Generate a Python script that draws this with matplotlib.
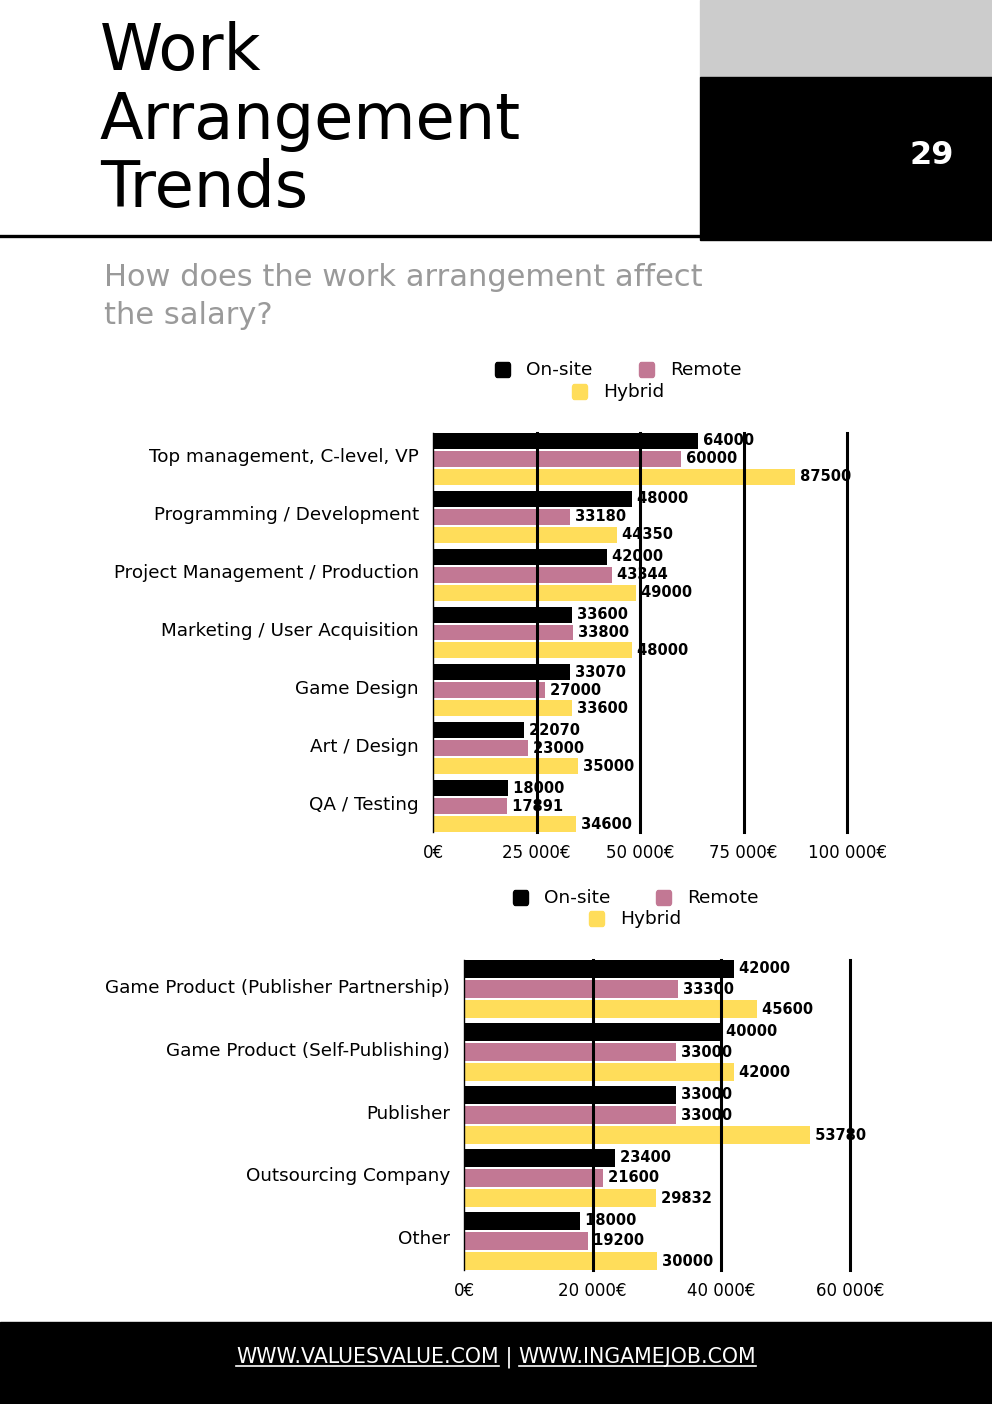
import matplotlib
matplotlib.use("Agg")
import matplotlib.pyplot as plt
import matplotlib.transforms as mtransforms
from matplotlib.patches import Rectangle, FancyBboxPatch
from matplotlib.lines import Line2D
import numpy as np

plt.rcParams['font.family'] = ['DejaVu Sans']

# ---------------- data ----------------
series_names = ["On-site", "Remote", "Hybrid"]
colors = ["#000000", "#c27894", "#ffdd5a"]

roles = ["Top management, C-level, VP", "Programming / Development",
         "Project Management / Production", "Marketing / User Acquisition",
         "Game Design", "Art / Design", "QA / Testing"]
roles_onsite = [64000, 48000, 42000, 33600, 33070, 22070, 18000]
roles_remote = [60000, 33180, 43344, 33800, 27000, 23000, 17891]
roles_hybrid = [87500, 44350, 49000, 48000, 33600, 35000, 34600]
roles_ticks = [0, 25000, 50000, 75000, 100000]
roles_ticklabels = ["0€", "25 000€", "50 000€", "75 000€", "100 000€"]

companies = ["Game Product (Publisher Partnership)", "Game Product (Self-Publishing)",
             "Publisher", "Outsourcing Company", "Other"]
comp_onsite = [42000, 40000, 33000, 23400, 18000]
comp_remote = [33300, 33000, 33000, 21600, 19200]
comp_hybrid = [45600, 42000, 53780, 29832, 30000]
comp_ticks = [0, 20000, 40000, 60000]
comp_ticklabels = ["0€", "20 000€", "40 000€", "60 000€"]

W, H = 992, 1404
fig = plt.figure(figsize=(W / 100, H / 100), dpi=100)
fig.patch.set_facecolor("white")


def px_rect(x0, y0, x1, y1):
    return [x0 / W, 1 - y1 / H, (x1 - x0) / W, (y1 - y0) / H]


# ---------------- header ----------------
fig.patches.append(Rectangle((700 / W, 1 - 77 / H), 292 / W, 77 / H,
                             transform=fig.transFigure, color="#cccccc", zorder=0))
fig.patches.append(Rectangle((700 / W, 1 - 240 / H), 292 / W, 163 / H,
                             transform=fig.transFigure, color="black", zorder=0))
fig.lines.append(Line2D([0, 700 / W], [1 - 236 / H, 1 - 236 / H],
                        transform=fig.transFigure, color="black", lw=2.4))
fig.text(932 / W, 1 - 155 / H, "29", color="white", fontsize=23, fontweight="bold",
         ha="center", va="center")
for i, line in enumerate(["Work", "Arrangement", "Trends"]):
    fig.text(100 / W, 1 - (70 + 68.5 * i) / H, line, fontsize=46, color="black",
             ha="left", va="baseline")
fig.text(104 / W, 1 - 286 / H, "How does the work arrangement affect",
         fontsize=22, color="#9a9a9a", ha="left", va="baseline")
fig.text(104 / W, 1 - 324 / H, "the salary?",
         fontsize=22, color="#9a9a9a", ha="left", va="baseline")

# ---------------- footer ----------------
fig.patches.append(Rectangle((0, 0), 1, (H - 1322) / H,
                             transform=fig.transFigure, color="black", zorder=0))
foot_parts = ["WWW.VALUESVALUE.COM", " | ", "WWW.INGAMEJOB.COM"]


# ---------------- legend helper ----------------
def legend(y_row1, y_row2, x_on, x_rem, x_hyb):
    s = 15
    for (x, y), c, name in zip([(x_on, y_row1), (x_rem, y_row1), (x_hyb, y_row2)],
                               colors, series_names):
        fig.patches.append(FancyBboxPatch(((x - s / 2) / W, 1 - (y + s / 2) / H), s / W, s / H,
                                          boxstyle="round,pad=0,rounding_size=0.002",
                                          transform=fig.transFigure, color=c, zorder=2))
        fig.text((x + 23) / W, 1 - y / H, name, fontsize=13.3, ha="left", va="center")


# ---------------- bar chart helper ----------------
def bar_chart(rect, cats, vals_list, ticks, ticklabels, step, height, xmax):
    ax = fig.add_axes(rect)
    y = np.arange(len(cats))
    for k, (vals, c) in enumerate(zip(vals_list, colors)):
        yy = y + (k - 1) * step
        ax.barh(yy, vals, height=height, color=c, zorder=1)
        for yi, v in zip(yy, vals):
            ax.text(v, yi, " " + str(v), fontsize=10.5, fontweight="bold",
                    ha="left", va="center", zorder=3, clip_on=False)
    for t in ticks[1:]:
        ax.axvline(t, color="black", lw=2.2, zorder=5, clip_on=False)
    ext = step + height / 2
    ax.set_ylim(len(cats) - 1 + ext, -ext)
    ax.set_xlim(0, xmax)
    ax.set_yticks(y)
    ax.set_yticklabels(cats, fontsize=13.2)
    ax.set_xticks(ticks)
    ax.set_xticklabels(ticklabels, fontsize=12)
    ax.tick_params(length=0)
    ax.tick_params(axis="y", pad=10)
    ax.tick_params(axis="x", pad=9)
    shift = mtransforms.ScaledTranslation(0, 2.5 / 72, fig.dpi_scale_trans)
    for lbl in ax.get_yticklabels():
        lbl.set_transform(lbl.get_transform() + shift)
    for sp in ["top", "right", "bottom"]:
        ax.spines[sp].set_visible(False)
    ax.spines["left"].set_linewidth(1.0)
    ax.set_facecolor("none")
    return ax


legend(370, 392, 503, 647, 580)
bar_chart(px_rect(433, 433, 847, 832), roles, [roles_onsite, roles_remote, roles_hybrid],
          roles_ticks, roles_ticklabels, 0.31, 0.276, 100000)

legend(898, 919, 521, 664, 597)
bar_chart(px_rect(464, 960, 850, 1270), companies, [comp_onsite, comp_remote, comp_hybrid],
          comp_ticks, comp_ticklabels, 0.32, 0.285, 60000)

# footer text with underlines
fig.canvas.draw()
renderer = fig.canvas.get_renderer()
fs = 14.8
tmp = [fig.text(0, 0, p, fontsize=fs, color="white") for p in foot_parts]
widths = [t.get_window_extent(renderer).width for t in tmp]
for t in tmp:
    t.remove()
total = sum(widths)
x = (W - total) / 2
yb = 1 - 1363 / H
for p, w in zip(foot_parts, widths):
    fig.text(x / W, yb, p, fontsize=fs, color="white", ha="left", va="baseline")
    if p.strip() != "|":
        fig.lines.append(Line2D([x / W, (x + w) / W], [yb - 3 / H, yb - 3 / H],
                                transform=fig.transFigure, color="white", lw=1.2))
    x += w

fig.savefig("out.png", dpi=100)
